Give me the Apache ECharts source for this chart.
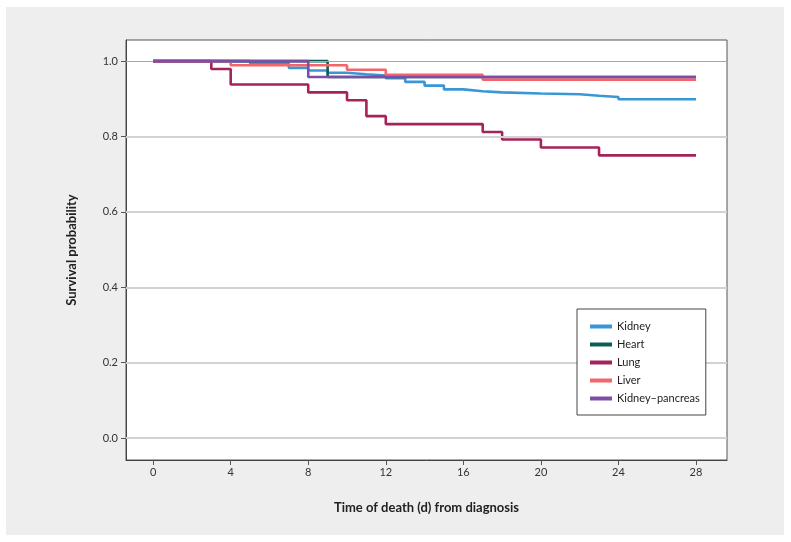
<!DOCTYPE html>
<html>
<head>
<meta charset="utf-8">
<script src="https://cdn.jsdelivr.net/npm/echarts@6/dist/echarts.min.js"></script>
<style>
html,body{margin:0;padding:0;background:#fff;}
#c{width:791px;height:542px;}
</style>
</head>
<body>
<div id="c"></div>
<script>
// Data
const seriesNames = ['Kidney', 'Heart', 'Lung', 'Liver', 'Kidney\u2013pancreas'];
const kidneyT = [0, 5, 7, 8, 9, 10, 11, 12, 13, 14, 15, 16, 17, 18, 20, 22, 23, 24, 28];
const kidneyS = [1, 0.994, 0.982, 0.975, 0.969, 0.965, 0.962, 0.955, 0.945, 0.935, 0.925, 0.920, 0.917, 0.914, 0.912, 0.908, 0.905, 0.899, 0.899];
const heartT = [0, 9, 28];
const heartS = [1, 0.958, 0.958];
const lungT = [0, 3, 4, 8, 10, 11, 12, 17, 18, 20, 23, 28];
const lungS = [1, 0.979, 0.938, 0.917, 0.896, 0.854, 0.833, 0.812, 0.792, 0.771, 0.750, 0.750];
const liverT = [0, 4, 10, 12, 17, 28];
const liverS = [1, 0.989, 0.977, 0.964, 0.951, 0.951];
const kpT = [0, 8, 28];
const kpS = [1, 0.958, 0.958];
const xTicks = [0, 4, 8, 12, 16, 20, 24, 28];
const yTicks = [0, 0.2, 0.4, 0.6, 0.8, 1.0];

const colors = ['#3a97d6', '#0d5d57', '#a5235a', '#f6646b', '#7d4ea6'];
const pairs = (T, S) => T.map((t, i) => [t, S[i]]);
const allData = [pairs(kidneyT, kidneyS), pairs(heartT, heartS), pairs(lungT, lungS), pairs(liverT, liverS), pairs(kpT, kpS)];

const FONT = 'Lato';
const chart = echarts.init(document.getElementById('c'), null, {renderer: 'canvas'});

const series = [{
  type: 'line', name: '_grid', data: [], silent: true, legendHoverLink: false,
  markLine: {
    silent: true, symbol: ['none', 'none'], label: {show: false},
    lineStyle: {color: '#d2d2d2', type: 'solid', width: 2},
    data: yTicks.map(v => v === 1 ? {yAxis: v, lineStyle: {color: '#a8a8a8', width: 1.2}} : {yAxis: v})
  },
  z: 1
}];
seriesNames.forEach((n, i) => {
  series.push({
    type: 'line', name: n, step: 'end', data: allData[i],
    showSymbol: false, symbol: 'none',
    lineStyle: {color: colors[i], width: 2.6},
    itemStyle: {color: colors[i]},
    z: 2 + i
  });
});

chart.setOption({
  animation: false,
  textStyle: {fontFamily: FONT},
  graphic: [{
    type: 'rect', shape: {x: 6, y: 7, width: 778, height: 528},
    style: {fill: '#edeeed'}, z: -10, silent: true
  }],
  grid: {
    left: 126, top: 40, right: 64, bottom: 82,
    show: true, backgroundColor: '#ffffff', borderColor: '#555', borderWidth: 1
  },
  legend: {
    orient: 'vertical', left: 577, top: 309, z: 50,
    data: seriesNames,
    icon: 'rect', itemWidth: 22, itemHeight: 4, itemGap: 5,
    padding: [11, 6, 10, 13],
    backgroundColor: '#fff', borderColor: '#444', borderWidth: 1, borderRadius: 0,
    textStyle: {fontFamily: FONT, fontSize: 11, color: '#222', lineHeight: 13},
    selectedMode: false
  },
  xAxis: {
    type: 'value', min: -1.4, max: 29.6,
    name: 'Time of death (d) from diagnosis', nameLocation: 'middle', nameGap: 41,
    nameTextStyle: {fontFamily: FONT, fontSize: 13, fontWeight: 'bold', color: '#222'},
    axisLine: {show: true, onZero: false, lineStyle: {color: '#444', width: 1}},
    axisTick: {show: true, length: 5, lineStyle: {color: '#555'}, customValues: xTicks},
    axisLabel: {customValues: xTicks, fontFamily: FONT, fontSize: 11, color: '#333', margin: 7},
    splitLine: {show: false}
  },
  yAxis: {
    type: 'value', min: -0.058, max: 1.056,
    name: 'Survival probability', nameLocation: 'middle', nameGap: 48, nameRotate: 90,
    nameTextStyle: {fontFamily: FONT, fontSize: 13, fontWeight: 'bold', color: '#222'},
    axisLine: {show: true, onZero: false, lineStyle: {color: '#444', width: 1}},
    axisTick: {show: true, length: 5, lineStyle: {color: '#555'}, customValues: yTicks},
    axisLabel: {customValues: yTicks, fontFamily: FONT, fontSize: 11, color: '#333', margin: 8,
      formatter: v => v.toFixed(1)},
    splitLine: {show: false}
  },
  series: series
});
</script>
</body>
</html>
